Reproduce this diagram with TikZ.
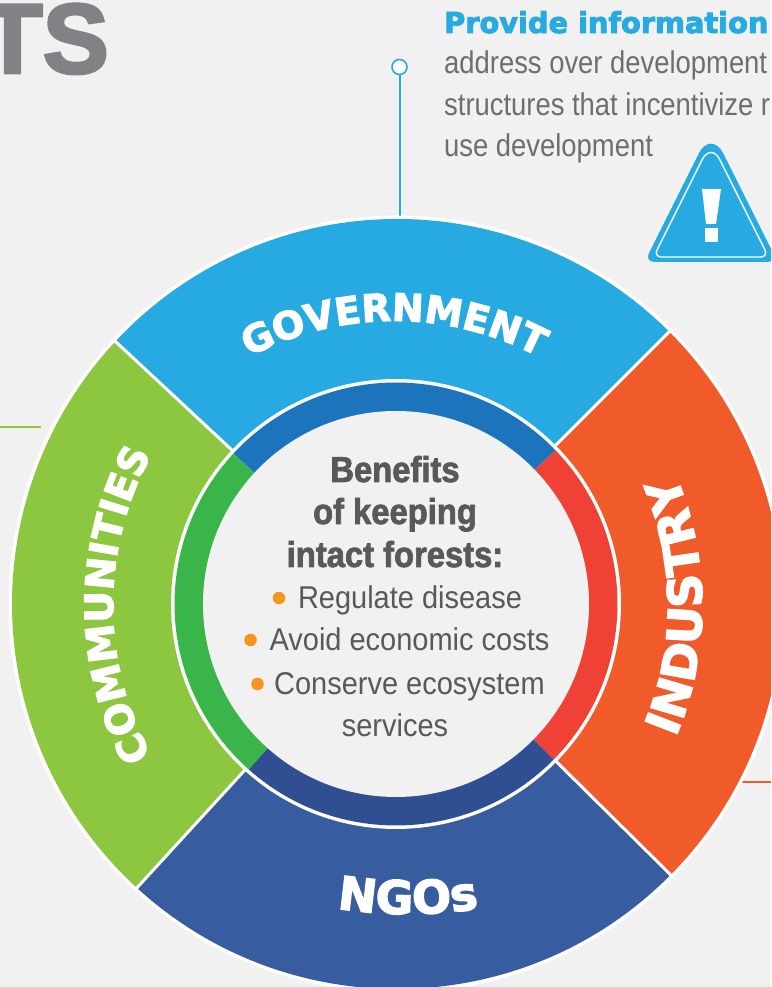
\documentclass[tikz,border=0pt]{standalone}
\usepackage{fontspec}
\usetikzlibrary{decorations.text}
\setmainfont{Liberation Sans}
\newfontfamily\condfont[FakeStretch=0.92]{Liberation Sans}
\newfontfamily\bodyfont[FakeStretch=0.87]{Liberation Sans}
\newfontfamily\condbold[FakeStretch=0.91,FakeBold=2]{Liberation Sans Bold}
\newfontfamily\heavyfont[FakeBold=3]{DejaVu Sans Bold}
\newfontfamily\tsfont[FakeBold=3]{Liberation Sans Bold}
\definecolor{bgc}{HTML}{F1F1F1}
\definecolor{govc}{HTML}{27AAE1}
\definecolor{govd}{HTML}{1C75BC}
\definecolor{indc}{HTML}{F15A29}
\definecolor{indd}{HTML}{EF4136}
\definecolor{comc}{HTML}{8DC63F}
\definecolor{comd}{HTML}{39B54A}
\definecolor{ngoc}{HTML}{385CA0}
\definecolor{ngod}{HTML}{2F4F92}
\definecolor{bodyc}{HTML}{6D6E71}
\definecolor{darkc}{HTML}{58595B}
\definecolor{tsc}{HTML}{808285}
\definecolor{dotc}{HTML}{F7941D}
\tikzset{
  listline/.style={anchor=base,inner sep=0pt,text=darkc,font=\condfont\fontsize{31.5}{31.5}\selectfont},
  headline/.style={anchor=base,inner sep=0pt,text=darkc,font=\condbold\fontsize{36}{36}\selectfont},
  bodyline/.style={anchor=base west,inner sep=0pt,text=bodyc,font=\bodyfont\fontsize{31.5}{31.5}\selectfont},
  bulletdot/.style={circle,fill=dotc,inner sep=0pt,minimum size=12.5pt},
  leader/.style={line width=2pt}
}
\begin{document}
\begin{tikzpicture}[x=1pt,y=1pt]
\useasboundingbox (0,0) rectangle (771,987);
\clip (0,0) rectangle (771,987);
\fill[bgc] (0,0) rectangle (771,987);
% corner title
\node[anchor=base east,inner sep=0pt,text=tsc,font=\tsfont\fontsize{99}{99}\selectfont] (ts) at (109,914) {TS};
% leaders
\node[circle,draw=govc,fill=white,line width=1.6pt,inner sep=0pt,minimum size=15pt] (topdot) at (399.5,920) {};
\coordinate (topend) at (399.5,771);
\draw[leader,draw=govc] (topdot) -- (topend);
\coordinate (grnA) at (0,560);
\coordinate (grnB) at (41,560);
\draw[leader,draw=comc] (grnA) -- (grnB);
\coordinate (orgA) at (741,205);
\coordinate (orgB) at (771,205);
\draw[leader,draw=indc] (orgA) -- (orgB);
% wheel
\fill[white] (397,383) circle (388.5);
\begin{scope}[shift={(397,383)}]
\fill[govc] (0,0) -- (137:385) arc[start angle=137,end angle=45,radius=385] -- cycle;
\fill[indc] (0,0) -- (45:385) arc[start angle=45,end angle=-44.7,radius=385] -- cycle;
\fill[ngoc] (0,0) -- (-44.7:385) arc[start angle=-44.7,end angle=-132.5,radius=385] -- cycle;
\fill[comc] (0,0) -- (227.5:385) arc[start angle=227.5,end angle=137,radius=385] -- cycle;
\draw[white,line width=3pt] (0,0) -- (137:387) (0,0) -- (45:387) (0,0) -- (-44.7:387) (0,0) -- (227.5:387);
\end{scope}
\begin{scope}[shift={(396,383)}]
\fill[white] (0,0) circle (225);
\fill[govd] (0,0) -- (137.2:221.5) arc[start angle=137.2,end angle=44,radius=221.5] -- cycle;
\fill[indd] (0,0) -- (44:221.5) arc[start angle=44,end angle=-44.6,radius=221.5] -- cycle;
\fill[ngod] (0,0) -- (-44.6:221.5) arc[start angle=-44.6,end angle=-131.7,radius=221.5] -- cycle;
\fill[comd] (0,0) -- (228.3:221.5) arc[start angle=228.3,end angle=137.2,radius=221.5] -- cycle;
\fill[bgc] (0,0) circle (193);
\end{scope}
% curved labels
\path[decorate,decoration={text along path,text align=center,text={|\heavyfont\fontsize{38}{38}\selectfont\color{white}|GOVERNMENT}}]
  (394,356)++(124:310) arc[start angle=124,end angle=56,radius=310];
\path[decorate,decoration={text along path,text align=center,text={|\heavyfont\fontsize{39}{39}\selectfont\color{white}|COMMUNITIES}}]
  (426,382)++(214:313) arc[start angle=214,end angle=146,radius=313];
\path[decorate,decoration={text along path,text align=center,text={|\heavyfont\fontsize{47}{47}\selectfont\color{white}|INDUSTRY}}]
  (362,381)++(-28:340) arc[start angle=-28,end angle=28,radius=340];
\path[decorate,decoration={text along path,text align=center,text={|\heavyfont\fontsize{46}{46}\selectfont\color{white}|NGOs}}]
  (408,523)++(-104:450) arc[start angle=-104,end angle=-76,radius=450];
% centre text
\node[headline] (h1) at (395,505) {Benefits};
\node[headline] (h2) at (395,463) {of keeping};
\node[headline] (h3) at (395,420) {intact forests:};
\node[listline] (l1) at (410,378) {Regulate disease};
\node[listline] (l2) at (409.5,336) {Avoid economic costs};
\node[listline] (l3) at (409.5,292) {Conserve ecosystem};
\node[listline] (l4) at (395,250) {services};
\node[bulletdot] (b1) at (279,389) {};
\node[bulletdot] (b2) at (250.5,347) {};
\node[bulletdot] (b3) at (257.5,303) {};
% upper right text
\node[anchor=base west,inner sep=0pt,text=govc,font=\heavyfont\fontsize{28.8}{29}\selectfont] (p0) at (444,954) {Provide information};
\node[bodyline] (p1) at (444,913) {address over development};
\node[bodyline] (p2) at (444,871) {structures that incentivize r};
\node[bodyline] (p3) at (444,830) {use development};
% warning sign
\fill[govc] (711,725) [rounded corners=10pt] -- (777.5,725) [rounded corners=28pt] -- (711,858) [rounded corners=10pt] -- (644.5,725) -- cycle;
\draw[white,line width=1.4pt] (711,730) [rounded corners=8pt] -- (768.5,730) [rounded corners=20pt] -- (711,845) [rounded corners=8pt] -- (653.5,730) -- cycle;
\fill[white] (702,798) -- (721,798) -- (716,763) -- (706,763) -- cycle;
\fill[white] (704.5,759) rectangle (717.5,745);
\end{tikzpicture}
\end{document}
